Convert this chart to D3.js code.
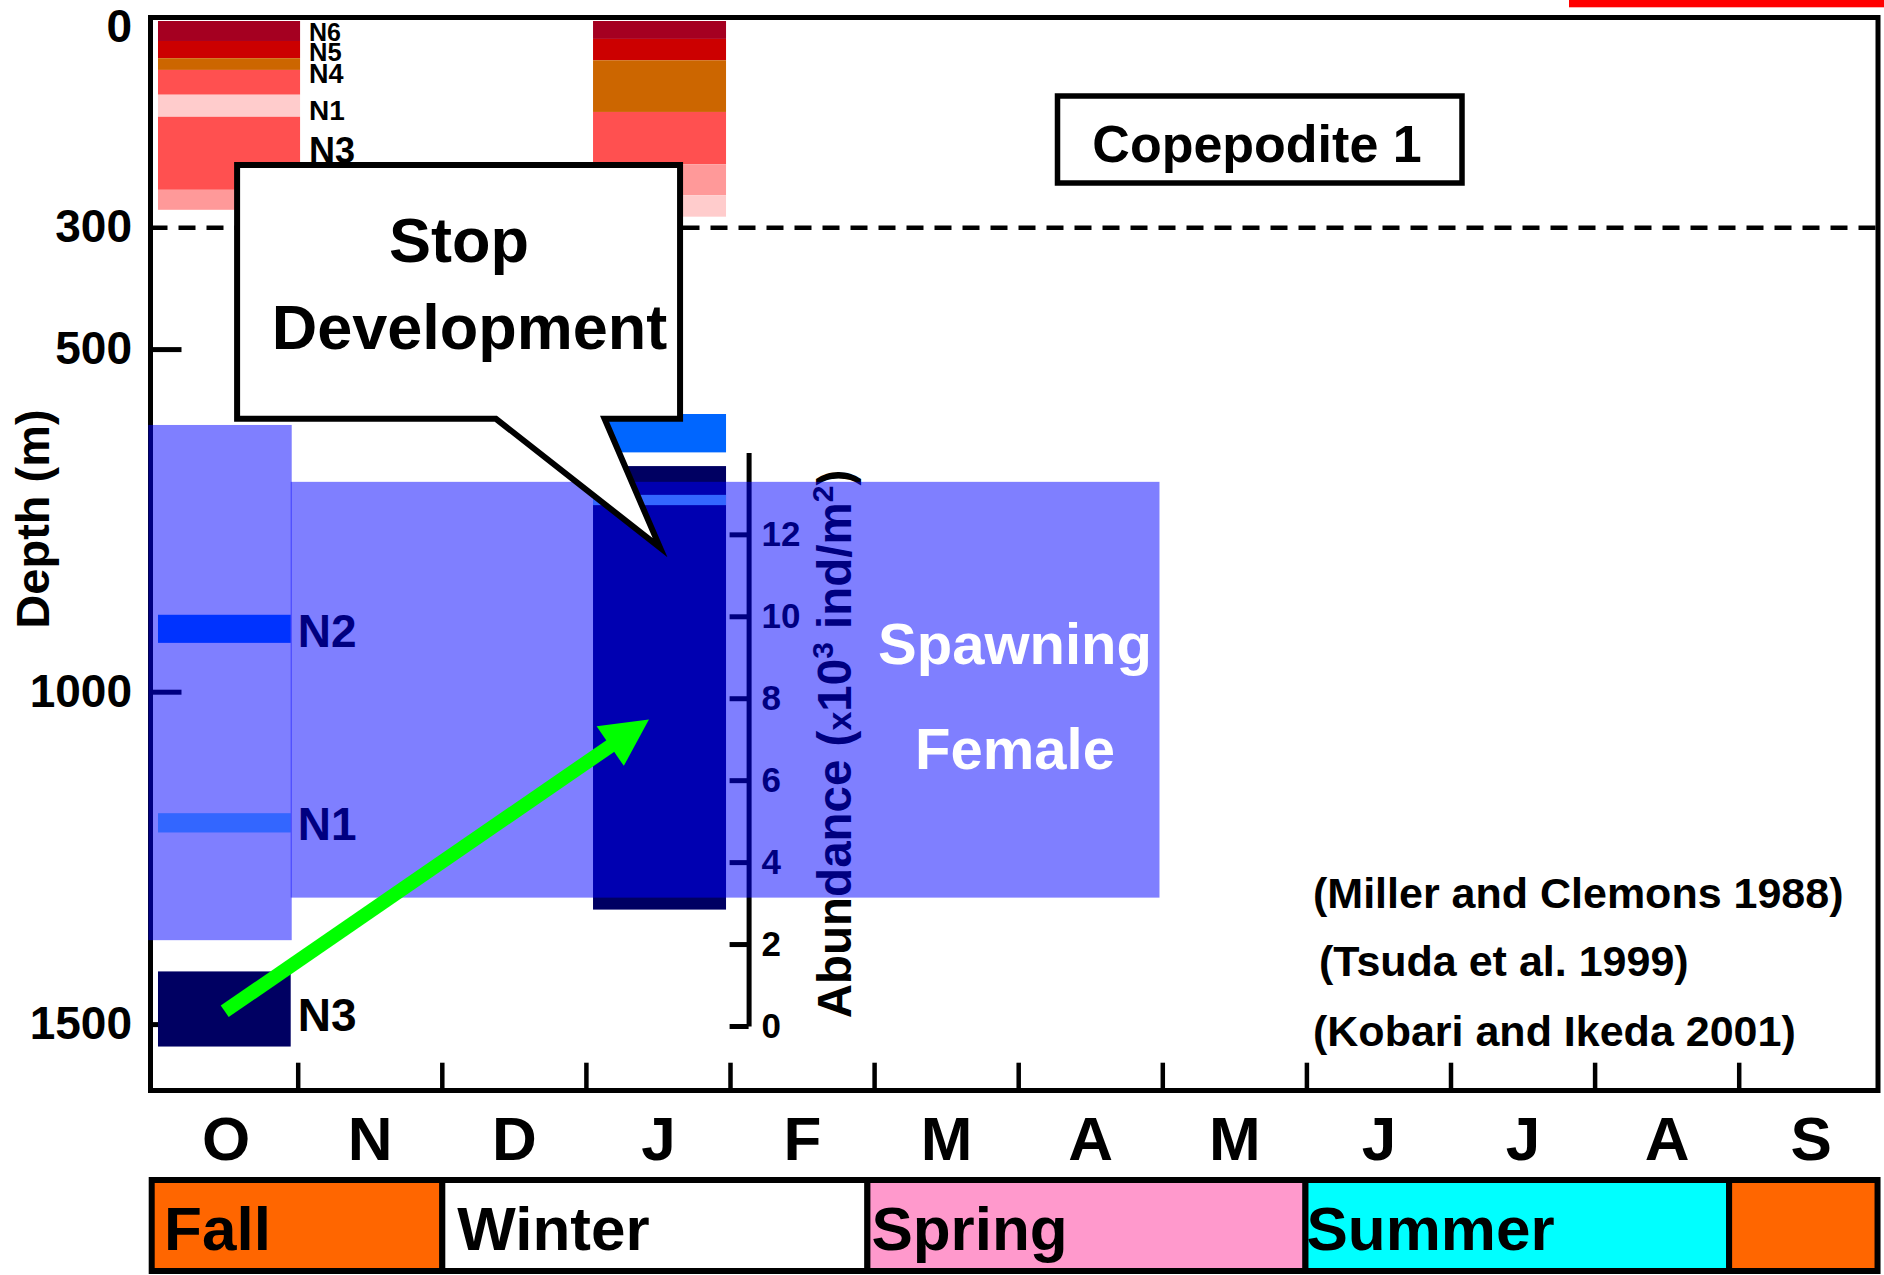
<!DOCTYPE html>
<html><head><meta charset="utf-8">
<script src="https://cdn.jsdelivr.net/npm/d3@7"></script>
<style>html,body{margin:0;padding:0;background:#fff;} svg{display:block;}</style>
</head><body>
<svg id="chart" width="1884" height="1275"></svg>
<script>
// ---------------- data ----------------
const months = ["O","N","D","J","F","M","A","M","J","J","A","S"];
const depthTickValues = [0,300,500,1000,1500];
const depthTickMarks = [500,1000,1500];
const abundanceTicks = [0,2,4,6,8,10,12];

// shallow nauplii bands (depth, m)
const shallowColumn = ["Oct","Oct","Oct","Oct","Oct","Oct","Oct","Jan","Jan","Jan","Jan","Jan","Jan"];
const shallowStage  = ["N6","N5","N4","N3","N1","N3","N2","N6","N5","N4","N3","N2","N1"];
const shallowTop    = [0,29,54,71,107,139,245, 0,26,57,132,208,253];
const shallowBottom = [29,54,71,107,139,245,274, 26,57,132,208,253,284];

// deep bands (depth, m)
const deepColumn = ["Oct","Oct","Oct","Jan","Jan","Jan"];
const deepStage  = ["N2","N1","N3","N2","N3","N1"];
const deepTop    = [887,1182,1420,594,670,712];
const deepBottom = [928,1211,1533,650,1327,727];

// column extents (month index, O = 0)
const columnNames = ["Oct","Jan"];
const shallowColStart = [0.027,3.046];
const shallowColEnd   = [1.013,3.969];
const deepColStart    = [0.027,3.046];
const deepColEnd      = [0.948,3.969];

// female layers
const overlayStart  = [-0.04,0.948];
const overlayEnd    = [0.955,6.977];
const overlayTop    = [610,693];
const overlayBottom = [1373,1309];

const shallowLabels = ["N6","N5","N4","N1","N3"];
const shallowLabelDepth = [15.5,45,75.5,129,188];
const deepLabels = ["N2","N1","N3"];
const deepLabelDepth = [910,1197,1485];

const seasons = ["Fall","Winter","Spring","Summer",""];
const seasonStart = [0,2,4.95,7.99,10.93];
const seasonEnd   = [2,4.95,7.99,10.93,11.96];

const citations = ["(Miller and Clemons 1988)","(Tsuda et al. 1999)","(Kobari and Ikeda 2001)"];
const stageTitle = "Copepodite 1";
const calloutLines = ["Stop","Development"];
const femaleLines = ["Spawning","Female"];

// annotation anchors in data space [month, depth]
const arrowFrom = [0.49,1480];
const arrowTo   = [3.434,1041];
const calloutMonths = [0.576,3.65];
const calloutDepths = [209,601];
const calloutTailMonths = [2.372,3.126];
const calloutTip = [3.511,789];

// ---------------- styles ----------------
const FONT = "'Liberation Sans', Arial, Helvetica, sans-serif";
const shallowColor = {N6:"#A50021",N5:"#CC0000",N4:"#CC6600",N3:"#FF5050",N2:"#FF9999",N1:"#FFCCCC"};
const deepColor = {N3:"#000062",N2:"#0066FF",N1:"#66CCFF"};
const seasonColor = ["#FF6600","#FFFFFF","#FF99CC","#00FFFF","#FF6600"];
const seasonLabelDx = [10,15,4,1,0];
const shallowLabelSize = [25,25.5,27,28,36];
const citationX = [1313,1319,1313];
const citationY = [908,976,1046];

// ---------------- scales ----------------
const x = d3.scaleLinear().domain([0,12]).range([154.1,1883.3]);
const y = d3.scaleLinear().domain([0,300,500,1000,1500]).range([21,227.7,349.6,692.2,1024.6]);
const a = d3.scaleLinear().domain([0,14]).range([1026,452.4]);

const frame = {left:150.5, top:17.5, right:1878, bottom:1090.5};

const svg = d3.select("#chart").style("font-family",FONT).style("font-weight","bold");

svg.append("rect").attr("width",1884).attr("height",1275).attr("fill","#fff");
// red line top right
svg.append("rect").attr("x",1569).attr("y",0).attr("width",315).attr("height",7.3).attr("fill","#FF0000");

// frame
svg.append("rect").attr("x",frame.left).attr("y",frame.top)
  .attr("width",frame.right-frame.left).attr("height",frame.bottom-frame.top)
  .attr("fill","none").attr("stroke","#000").attr("stroke-width",5);

// 300 m dashed line
svg.append("line").attr("x1",frame.left).attr("x2",frame.right)
  .attr("y1",y(300)).attr("y2",y(300))
  .attr("stroke","#000").attr("stroke-width",4.5).attr("stroke-dasharray","17,11");

// depth ticks + labels
svg.selectAll(".dtick").data(depthTickMarks).join("line")
  .attr("x1",frame.left).attr("x2",frame.left+31)
  .attr("y1",d=>y(d)).attr("y2",d=>y(d))
  .attr("stroke","#000").attr("stroke-width",5);
svg.selectAll(".dlab").data(depthTickValues).join("text")
  .attr("x",132).attr("y",d=>Math.max(y(d),27)-2).attr("dy","0.36em")
  .attr("text-anchor","end").attr("font-size",46).text(d=>d);

// month ticks + labels
svg.selectAll(".mtick").data(d3.range(1,12)).join("line")
  .attr("x1",d=>x(d)).attr("x2",d=>x(d))
  .attr("y1",frame.bottom).attr("y2",1062.7)
  .attr("stroke","#000").attr("stroke-width",4.5);
svg.selectAll(".mlab").data(months).join("text")
  .attr("x",(d,i)=>x(i+0.5)).attr("y",1159.5)
  .attr("text-anchor","middle").attr("font-size",62).text(d=>d);

// shallow bands
const colIdx = n => columnNames.indexOf(n);
svg.selectAll(".sband").data(shallowTop.map((t,i)=>i)).join("rect")
  .attr("x",i=>x(shallowColStart[colIdx(shallowColumn[i])]))
  .attr("width",i=>x(shallowColEnd[colIdx(shallowColumn[i])])-x(shallowColStart[colIdx(shallowColumn[i])]))
  .attr("y",i=>y(shallowTop[i])).attr("height",i=>y(shallowBottom[i])-y(shallowTop[i]))
  .attr("fill",i=>shallowColor[shallowStage[i]]);

// deep bands
svg.selectAll(".dband").data(deepTop.map((t,i)=>i)).join("rect")
  .attr("x",i=>x(deepColStart[colIdx(deepColumn[i])]))
  .attr("width",i=>x(deepColEnd[colIdx(deepColumn[i])])-x(deepColStart[colIdx(deepColumn[i])]))
  .attr("y",i=>y(deepTop[i])).attr("height",i=>y(deepBottom[i])-y(deepTop[i]))
  .attr("fill",i=>deepColor[deepStage[i]]);

// shallow labels
svg.selectAll(".slab").data(shallowLabels).join("text")
  .attr("x",x(shallowColEnd[0])+9).attr("y",(d,i)=>y(shallowLabelDepth[i])).attr("dy","0.36em")
  .attr("font-size",(d,i)=>shallowLabelSize[i]).text(d=>d);
// deep labels
svg.selectAll(".dlabn").data(deepLabels).join("text")
  .attr("x",x(deepColEnd[0])+7).attr("y",(d,i)=>y(deepLabelDepth[i])).attr("dy","0.36em")
  .attr("font-size",46).text(d=>d);

// abundance axis
const ag = svg.append("g").attr("transform","translate(748.6,0)")
  .call(d3.axisRight(a).tickValues(abundanceTicks).tickSize(-19).tickSizeOuter(0).tickPadding(13));
ag.attr("font-family",FONT).attr("font-size",35).attr("font-weight","bold");
ag.selectAll("path,line").attr("stroke","#000").attr("stroke-width",5);
ag.selectAll("text").attr("fill","#000");
const at = svg.append("text").attr("transform","translate(851,744) rotate(-90)")
  .attr("text-anchor","middle").attr("font-size",47.5);
at.append("tspan").text("Abundance (");
at.append("tspan").attr("font-size",34).text("x");
at.append("tspan").text("10");
at.append("tspan").attr("font-size",30).attr("dy",-18).text("3");
at.append("tspan").attr("dy",18).text(" ind/m");
at.append("tspan").attr("font-size",30).attr("dy",-18).text("2");
at.append("tspan").attr("dy",18).text(")");

// female overlays (semi-transparent blue)
svg.selectAll(".ov").data(overlayStart.map((s,i)=>i)).join("rect")
  .attr("x",i=>x(overlayStart[i])).attr("width",i=>x(overlayEnd[i])-x(overlayStart[i]))
  .attr("y",i=>y(overlayTop[i])).attr("height",i=>y(overlayBottom[i])-y(overlayTop[i]))
  .attr("fill","#0000FF").attr("fill-opacity",0.5);

svg.selectAll(".fem").data(femaleLines).join("text")
  .attr("x",1015).attr("y",(d,i)=>[664,769][i]).attr("text-anchor","middle")
  .attr("font-size",58).attr("fill","#fff").text(d=>d);

// Copepodite box
svg.append("rect").attr("x",1057.5).attr("y",96).attr("width",404.5).attr("height",87)
  .attr("fill","#fff").attr("stroke","#000").attr("stroke-width",5.5);
svg.append("text").attr("x",1257).attr("y",162).attr("text-anchor","middle")
  .attr("font-size",52).text(stageTitle);

// citations
svg.selectAll(".cit").data(citations).join("text")
  .attr("x",(d,i)=>citationX[i]).attr("y",(d,i)=>citationY[i]).attr("font-size",43).text(d=>d);

// callout
const bx0=x(calloutMonths[0]), bx1=x(calloutMonths[1]), by0=y(calloutDepths[0]), by1=y(calloutDepths[1]);
const cp = d3.path();
cp.moveTo(bx0,by0); cp.lineTo(bx1,by0); cp.lineTo(bx1,by1);
cp.lineTo(x(calloutTailMonths[1]),by1); cp.lineTo(x(calloutTip[0]),y(calloutTip[1]));
cp.lineTo(x(calloutTailMonths[0]),by1); cp.lineTo(bx0,by1); cp.closePath();
svg.append("path").attr("d",cp.toString()).attr("fill","#fff").attr("stroke","#000")
  .attr("stroke-width",6).attr("stroke-linejoin","miter").attr("stroke-miterlimit",10);
svg.append("text").attr("x",459).attr("y",261.7).attr("text-anchor","middle").attr("font-size",63).text(calloutLines[0]);
svg.append("text").attr("x",469.5).attr("y",349).attr("text-anchor","middle").attr("font-size",63).text(calloutLines[1]);

// green arrow
const p0=[x(arrowFrom[0]),y(arrowFrom[1])], p1=[x(arrowTo[0]),y(arrowTo[1])];
const dx=p1[0]-p0[0], dy=p1[1]-p0[1], L=Math.hypot(dx,dy), ux=dx/L, uy=dy/L;
const headLen=47, headHalf=24;
const base=[p1[0]-ux*headLen, p1[1]-uy*headLen];
svg.append("line").attr("x1",p0[0]).attr("y1",p0[1]).attr("x2",base[0]+ux*2).attr("y2",base[1]+uy*2)
  .attr("stroke","#00FF00").attr("stroke-width",14);
svg.append("path").attr("d",`M${p1[0]},${p1[1]}L${base[0]-uy*headHalf},${base[1]+ux*headHalf}L${base[0]+uy*headHalf},${base[1]-ux*headHalf}Z`)
  .attr("fill","#00FF00");

// season bar
const sx = i => i===0 ? frame.left+1.2 : x(seasonStart[i]);
svg.selectAll(".season").data(seasons).join("rect")
  .attr("x",(d,i)=>sx(i)).attr("width",(d,i)=>x(seasonEnd[i])-sx(i))
  .attr("y",1180).attr("height",91)
  .attr("fill",(d,i)=>seasonColor[i]).attr("stroke","#000").attr("stroke-width",6);
svg.selectAll(".slabel").data(seasons).join("text")
  .attr("x",(d,i)=>x(seasonStart[i])+seasonLabelDx[i]).attr("y",1250)
  .attr("font-size",62).text(d=>d);

// Depth axis title
svg.append("text").attr("transform","translate(49.3,519) rotate(-90)")
  .attr("text-anchor","middle").attr("font-size",47).text("Depth (m)");
</script>
</body></html>
